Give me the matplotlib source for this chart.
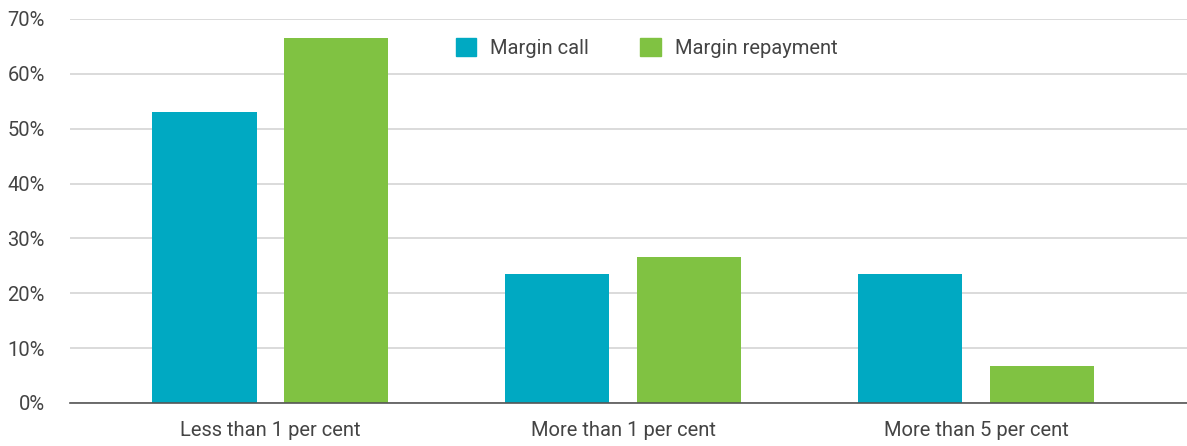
import numpy as np
import matplotlib.pyplot as plt
from matplotlib.patches import Patch

# Datos del gráfico
categories = ["Less than 1 per cent", "More than 1 per cent", "More than 5 per cent"]
margin_call = [53.0, 23.5, 23.5]
margin_repayment = [66.5, 26.7, 6.7]
yticks = [0, 10, 20, 30, 40, 50, 60, 70]

c_call = "#00A9C2"
c_rep = "#80C242"
txt = "#444444"

plt.rcParams['font.family'] = ['Roboto', 'DejaVu Sans']

fig = plt.figure(figsize=(11.87, 4.46), dpi=100)
ax = fig.add_axes([70/1187, 43/446, 1117/1187, 384/446])

x = np.arange(len(categories))
w = 0.295
ax.bar(x - 0.186, margin_call, w, color=c_call, zorder=3)
ax.bar(x + 0.186, margin_repayment, w, color=c_rep, zorder=3)

ax.set_xlim(-0.567, 2.598)
ax.set_ylim(0, 70)
ax.set_yticks(yticks)
ax.set_yticklabels([f"{v}%" for v in yticks])
ax.set_xticks(x)
ax.set_xticklabels(categories)
ax.grid(axis='y', color="#d4d4d4", linewidth=1.2, zorder=0)
for s in ['top', 'right', 'left']:
    ax.spines[s].set_visible(False)
ax.spines['bottom'].set_color("#555555")
ax.spines['bottom'].set_linewidth(1.2)
ax.spines['bottom'].set_zorder(4)
ax.tick_params(axis='both', length=0, labelsize=14.5, colors=txt)
ax.tick_params(axis='y', pad=18)
ax.tick_params(axis='x', pad=13)
for lbl in ax.get_yticklabels():
    lbl.set_horizontalalignment('right')

handles = [Patch(color=c_call, label="Margin call"),
           Patch(color=c_rep, label="Margin repayment")]
leg = fig.legend(handles=handles, loc='center left', bbox_to_anchor=(456/1187, 1 - 48/446),
                 ncol=2, frameon=False, fontsize=14.5, handlelength=1.0, handleheight=1.0,
                 handletextpad=0.7, columnspacing=2.55, borderaxespad=0, borderpad=0)
for t in leg.get_texts():
    t.set_color(txt)

fig.savefig("out.png", dpi=100, facecolor="white")
